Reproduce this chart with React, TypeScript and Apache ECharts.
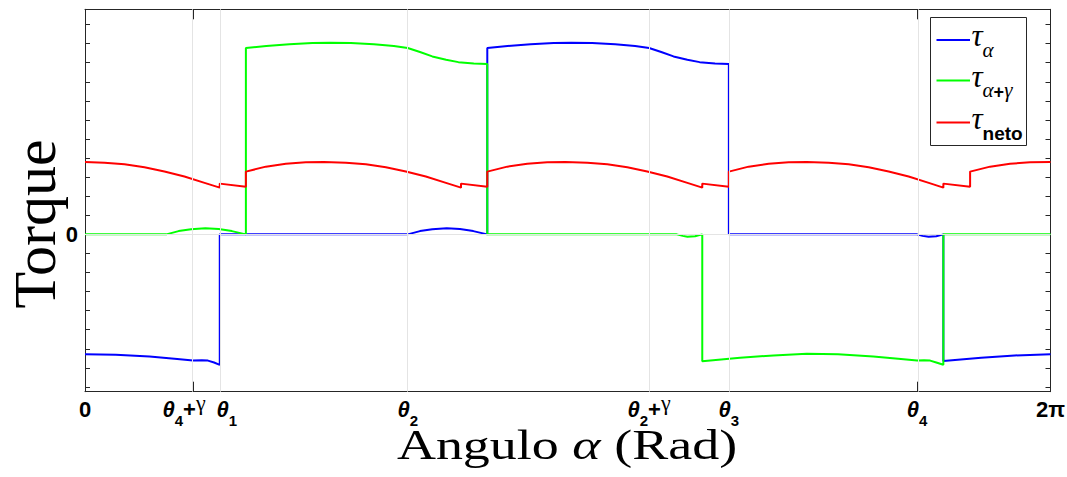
import React, { useEffect, useRef } from 'react';
import * as echarts from 'echarts';

const TWO_PI = 6.2832;
const Y_MIN = -8.25;
const Y_MAX = 11.8;

const xTickValues = [0, 0.703, 0.877, 2.1, 3.671, 4.19, 5.415, TWO_PI];
const xTickLabels = [
  '{b|0}',
  '{t|θ}{s|4}{b|+}{g|γ}{sr| }',
  '{sl| }{t|θ}{s|1}',
  '{t|θ}{s|2}',
  '{t|θ}{s|2}{b|+}{g|γ}',
  '{t|θ}{s|3}',
  '{t|θ}{s|4}',
  '{b|2}{p|π}',
];
const gridXValues = [0.703, 0.877, 2.1, 3.671, 4.19, 5.415];
const gridYValues = [0];
const yTickValues = [-8, -7, -6, -5, -4, -3, -2, -1, 0, 1, 2, 3, 4, 5, 6, 7, 8, 9, 10, 11];
const yLabelValues = [0];
const yLabelTexts = ['0'];

const seriesNames = ['τα', 'τα+γ', 'τneto'];
const legendLabels = ['{tau|τ}{sub|α}', '{tau|τ}{sub|α}{subp|+}{sub|γ}', '{tau|τ}{subn|neto}'];
const seriesColors = ['#0000ff', '#00ff00', '#ff0000'];

const tauAlpha: [number, number][] = [
  [0, -6.28], [0.2, -6.31], [0.42, -6.4], [0.6, -6.53], [0.703, -6.62], [0.76, -6.6],
  [0.8, -6.62], [0.84, -6.72], [0.877, -6.84], [0.877, 0], [2.1, 0], [2.18, 0.17],
  [2.26, 0.27], [2.354, 0.32], [2.44, 0.28], [2.527, 0.17], [2.618, 0], [2.618, 9.77],
  [2.75, 9.88], [2.9, 9.97], [3.05, 10.03], [3.165, 10.05], [3.3, 10.03], [3.45, 9.97],
  [3.58, 9.88], [3.671, 9.77], [3.75, 9.56], [3.83, 9.33], [3.92, 9.15], [4.0, 9.03],
  [4.1, 8.96], [4.19, 8.93], [4.19, 0], [5.415, 0], [5.45, -0.08], [5.49, -0.12],
  [5.54, -0.1], [5.586, 0], [5.586, -6.64], [5.832, -6.47], [6.05, -6.35], [TWO_PI, -6.28],
];

const tauAlphaGamma: [number, number][] = [
  [0, 0], [0.529, 0], [0.609, 0.17], [0.69, 0.27], [0.783, 0.32], [0.87, 0.28],
  [0.956, 0.17], [1.047, 0], [1.047, 9.77], [1.18, 9.88], [1.33, 9.97], [1.48, 10.03],
  [1.594, 10.05], [1.73, 10.03], [1.88, 9.97], [2.01, 9.88], [2.1, 9.77], [2.18, 9.56],
  [2.26, 9.33], [2.35, 9.15], [2.43, 9.03], [2.53, 8.96], [2.618, 8.93], [2.618, 0],
  [3.851, 0], [3.89, -0.08], [3.92, -0.12], [3.97, -0.1], [4.017, 0], [4.017, -6.65],
  [4.263, -6.47], [4.48, -6.35], [4.697, -6.26], [4.9, -6.29], [5.13, -6.4], [5.31, -6.53],
  [5.415, -6.62], [5.46, -6.6], [5.5, -6.62], [5.54, -6.72], [5.586, -6.84], [5.586, 0],
  [TWO_PI, 0],
];

const tauNeto: [number, number][] = [
  [0, 3.8], [0.127, 3.76], [0.257, 3.67], [0.387, 3.52], [0.517, 3.3], [0.647, 3.03],
  [0.778, 2.7], [0.877, 2.45], [0.877, 2.66], [1.047, 2.49], [1.047, 3.29],
  [1.177, 3.55], [1.307, 3.7], [1.437, 3.78], [1.555, 3.8], [1.698, 3.76], [1.828, 3.67],
  [1.958, 3.52], [2.088, 3.3], [2.218, 3.03], [2.349, 2.7], [2.447, 2.45], [2.447, 2.66],
  [2.618, 2.49], [2.618, 3.29],
  [2.748, 3.55], [2.878, 3.7], [3.008, 3.78], [3.126, 3.8], [3.269, 3.76], [3.399, 3.67],
  [3.529, 3.52], [3.659, 3.3], [3.789, 3.03], [3.92, 2.7], [4.017, 2.45], [4.017, 2.66],
  [4.19, 2.49], [4.19, 3.29],
  [4.319, 3.55], [4.449, 3.7], [4.579, 3.78], [4.697, 3.8], [4.84, 3.76], [4.97, 3.67],
  [5.1, 3.52], [5.23, 3.3], [5.36, 3.03], [5.491, 2.7], [5.586, 2.45], [5.586, 2.66],
  [5.76, 2.49], [5.76, 3.29],
  [5.89, 3.55], [6.02, 3.7], [6.15, 3.78], [TWO_PI, 3.8],
];

const seriesData = [tauAlpha, tauAlphaGamma, tauNeto];

const AXIS_COLOR = '#262626';
const GRID_COLOR = '#e4e4e4';

export default function App() {
  const ref = useRef<HTMLDivElement>(null);

  useEffect(() => {
    if (!ref.current) return;
    const chart = echarts.init(ref.current, undefined, { renderer: 'svg' });

    const xLabelRich = {
      b: { fontFamily: 'Liberation Sans', fontWeight: 'bold', fontSize: 22, color: '#000', lineHeight: 36, verticalAlign: 'middle' },
      p: { fontFamily: 'Liberation Sans', fontWeight: 'bold', fontSize: 22, color: '#000', lineHeight: 36, verticalAlign: 'middle' },
      t: { fontFamily: 'Liberation Sans', fontStyle: 'italic', fontWeight: 'bold', fontSize: 22, color: '#000', lineHeight: 36, verticalAlign: 'middle' },
      s: { fontFamily: 'Liberation Sans', fontWeight: 'bold', fontSize: 15, color: '#000', verticalAlign: 'bottom' },
      g: { fontFamily: 'Liberation Serif', fontSize: 22, color: '#000', verticalAlign: 'top' },
      sr: { width: 18, fontSize: 10 },
      sl: { width: 14, fontSize: 10 },
    };

    const legendRich = {
      tau: { fontFamily: 'Liberation Serif', fontStyle: 'italic', fontSize: 31, fill: '#000', lineHeight: 40, verticalAlign: 'top' },
      sub: { fontFamily: 'Liberation Serif', fontStyle: 'italic', fontSize: 21, fill: '#000', verticalAlign: 'bottom' },
      subp: { fontFamily: 'Liberation Sans', fontWeight: 'bold', fontSize: 18, fill: '#000', verticalAlign: 'bottom' },
      subn: { fontFamily: 'Liberation Sans', fontWeight: 'bold', fontSize: 19, fill: '#000', verticalAlign: 'bottom' },
    };

    const xFormatter = (v: number) => {
      const i = xTickValues.findIndex((t) => Math.abs(t - v) < 1e-6);
      return i >= 0 ? xTickLabels[i] : '';
    };
    const yFormatter = (v: number) => {
      const i = yLabelValues.findIndex((t) => Math.abs(t - v) < 1e-6);
      return i >= 0 ? yLabelTexts[i] : '';
    };

    const baseX = {
      type: 'value' as const,
      min: 0,
      max: TWO_PI,
      axisLine: { show: true, onZero: false, lineStyle: { color: AXIS_COLOR, width: 1 } },
      splitLine: { show: false },
    };
    const baseY = {
      type: 'value' as const,
      min: Y_MIN,
      max: Y_MAX,
      axisLine: { show: true, onZero: false, lineStyle: { color: AXIS_COLOR, width: 1 } },
      splitLine: { show: false },
    };

    // legend block (box, sample lines, labels)
    const legendLeft = 930.5;
    const legendTop = 17.5;
    const legendRowY = [40, 80.5, 122.5];
    const legendGraphic: any[] = [
      {
        type: 'rect',
        shape: { x: legendLeft, y: legendTop, width: 96, height: 128 },
        style: { fill: '#ffffff', stroke: AXIS_COLOR, lineWidth: 1 },
        z: 100,
      },
    ];
    seriesNames.forEach((_, i) => {
      legendGraphic.push({
        type: 'line',
        shape: { x1: legendLeft + 6, y1: legendRowY[i], x2: legendLeft + 39.5, y2: legendRowY[i] },
        style: { stroke: seriesColors[i], lineWidth: 2 },
        z: 101,
      });
      legendGraphic.push({
        type: 'text',
        x: legendLeft + 41,
        y: legendRowY[i],
        z: 101,
        style: {
          text: legendLabels[i],
          fill: '#000',
          align: 'left',
          verticalAlign: 'middle',
          textAlign: 'left',
          textVerticalAlign: 'middle',
          rich: legendRich,
        },
      });
    });

    const option: any = {
      animation: false,
      backgroundColor: '#ffffff',
      grid: { left: 85, right: 16.5, top: 9.3, bottom: 85.3, containLabel: false, outerBoundsMode: 'none' },
      xAxis: [
        {
          ...baseX,
          position: 'bottom',
          axisTick: { show: true, inside: true, length: 10, customValues: xTickValues, lineStyle: { color: AXIS_COLOR } },
          axisLabel: {
            show: true,
            customValues: xTickValues,
            formatter: xFormatter,
            margin: 0,
            showMinLabel: true,
            showMaxLabel: true,
            hideOverlap: false,
            rich: xLabelRich,
          },
        },
        {
          ...baseX,
          position: 'top',
          axisTick: { show: true, inside: true, length: 10, customValues: xTickValues, lineStyle: { color: AXIS_COLOR } },
          axisLabel: { show: false },
        },
      ],
      yAxis: [
        {
          ...baseY,
          position: 'left',
          axisTick: { show: true, inside: true, length: 5, customValues: yTickValues, lineStyle: { color: AXIS_COLOR } },
          axisLabel: {
            show: true,
            customValues: yLabelValues,
            formatter: yFormatter,
            margin: 7,
            fontFamily: 'Liberation Sans',
            fontWeight: 'bold',
            fontSize: 22,
            color: '#000',
          },
        },
        {
          ...baseY,
          position: 'right',
          axisTick: { show: true, inside: true, length: 5, customValues: yTickValues, lineStyle: { color: AXIS_COLOR } },
          axisLabel: { show: false },
        },
      ],
      graphic: [
        {
          type: 'text',
          x: 35,
          y: 224,
          rotation: Math.PI / 2,
          style: {
            text: 'Torque',
            fontFamily: 'Liberation Serif',
            fontSize: 60,
            fill: '#000',
            align: 'center',
            verticalAlign: 'middle',
            textAlign: 'center',
            textVerticalAlign: 'middle',
          },
        },
        {
          type: 'text',
          x: 567,
          y: 444,
          scaleY: 0.8,
          style: {
            text: '{n|Angulo }{i|α}{n| (Rad)}',
            fill: '#000',
            align: 'center',
            verticalAlign: 'middle',
            textAlign: 'center',
            textVerticalAlign: 'middle',
            rich: {
              n: { fontFamily: 'Liberation Serif', fontSize: 54, fill: '#000' },
              i: { fontFamily: 'Liberation Serif', fontStyle: 'italic', fontSize: 54, fill: '#000' },
            },
          },
        },
        ...legendGraphic,
      ],
      series: [
        {
          name: 'grid',
          type: 'line',
          data: [],
          z: 1,
          silent: true,
          symbol: 'none',
          markLine: {
            silent: true,
            symbol: ['none', 'none'],
            label: { show: false },
            lineStyle: { color: GRID_COLOR, width: 1, type: 'solid' },
            emphasis: { disabled: true },
            data: [
              ...gridXValues.map((v) => ({ xAxis: v })),
              ...gridYValues.map((v) => ({ yAxis: v })),
            ],
          },
        },
        ...seriesNames.map((name, i) => ({
          name,
          type: 'line',
          data: seriesData[i],
          symbol: 'none',
          showSymbol: false,
          z: 2 + i,
          color: seriesColors[i],
          lineStyle: { color: seriesColors[i], width: 2 },
          itemStyle: { color: seriesColors[i] },
        })),
      ],
    };

    chart.setOption(option);
    return () => {
      chart.dispose();
    };
  }, []);

  return (
    <div
      ref={ref}
      style={{ position: 'absolute', left: 0, top: 0, width: 1067, height: 477, background: '#fff' }}
    />
  );
}
